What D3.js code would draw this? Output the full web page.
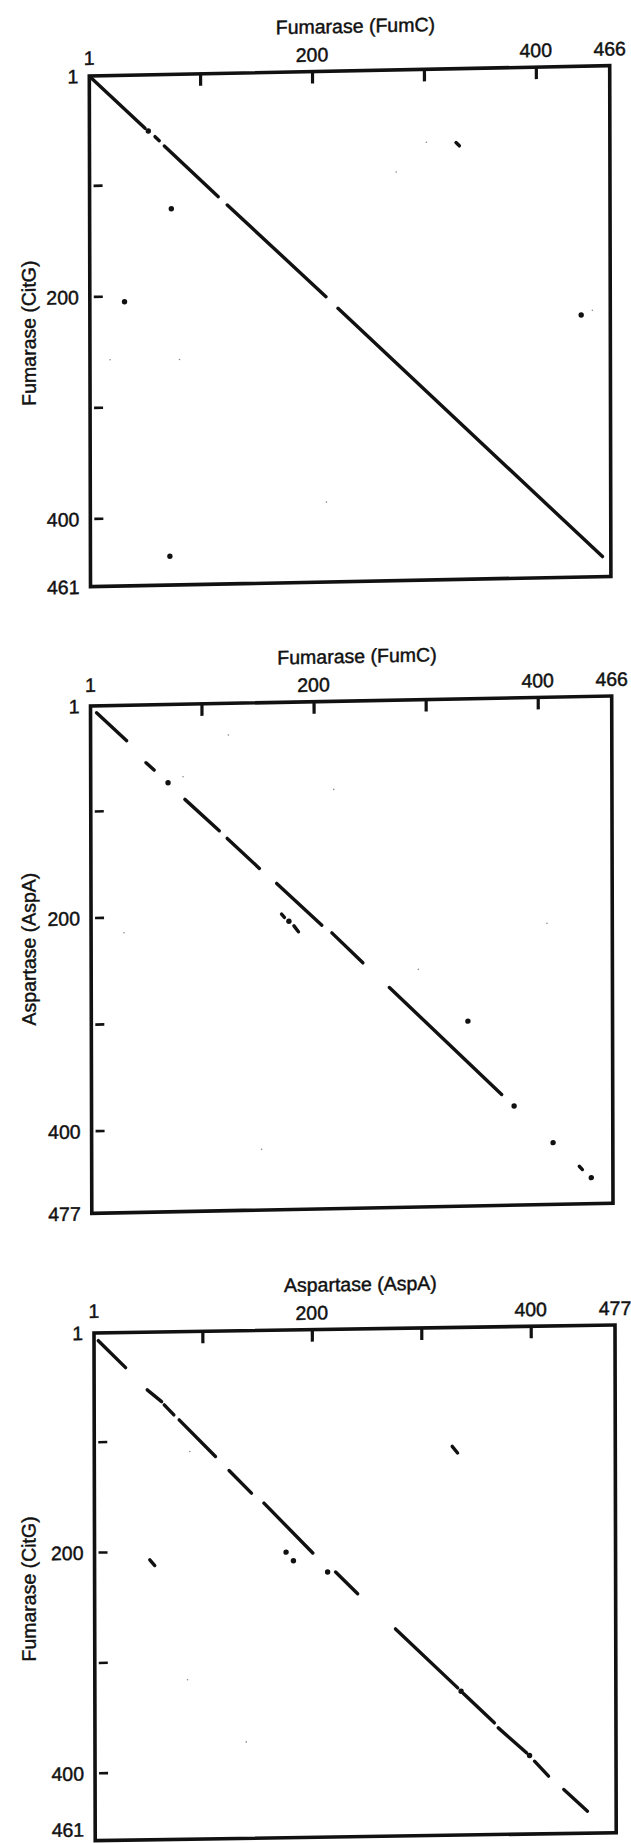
<!DOCTYPE html>
<html>
<head>
<meta charset="utf-8">
<script src="https://cdn.jsdelivr.net/npm/d3@7"></script>
<style>
  html, body { margin: 0; padding: 0; background: #fff; }
  svg { display: block; }
  text { font-family: "Liberation Sans", Arial, Helvetica, sans-serif; fill: #111; stroke: #111; stroke-width: 0.45px; }
</style>
</head>
<body>
<svg id="chart" width="631" height="1843"></svg>
<script>
// ---------- DATA (sequence positions) ----------
const tickValues = [100, 200, 300, 400];

// Panel 1: Fumarase (FumC) vs Fumarase (CitG)
const p1XTitle = "Fumarase (FumC)";
const p1YTitle = "Fumarase (CitG)";
const p1XMax = 466, p1YMax = 461;
const p1TopLabels = [1, 200, 400, 466];
const p1LeftLabels = [1, 200, 400, 461];
const p1Segments = [
  [3, 3, 50.7, 49.1],
  [59.6, 56.8, 63.4, 60.5],
  [67.9, 65.4, 116, 112],
  [124, 119.6, 212, 204],
  [222.7, 214.7, 458.5, 443],
  [328.5, 67.5, 331.5, 70.5]
];
const p1Dots = [[53.6, 51.6], [74, 122], [32, 205], [440, 225], [72, 435]];
const p1Specks = [[302, 66.7], [275, 93], [450, 221], [19, 257], [212, 389], [81, 258]];

// Panel 2: Fumarase (FumC) vs Aspartase (AspA)
const p2XTitle = "Fumarase (FumC)";
const p2YTitle = "Aspartase (AspA)";
const p2XMax = 466, p2YMax = 477;
const p2TopLabels = [1, 200, 400, 466];
const p2LeftLabels = [1, 200, 400, 477];
const p2Segments = [
  [6.4, 7.4, 33.2, 34.2],
  [50.4, 55.2, 57.6, 62.2],
  [85, 90.3, 115.6, 120.4],
  [122.7, 127.7, 151.3, 156.4],
  [166.7, 170.8, 206.9, 210.8],
  [215.8, 218.2, 243.4, 246.9],
  [267, 270.5, 366.9, 372.9],
  [436, 441.6, 438.8, 444.8],
  [171, 199.7, 173.5, 202.8],
  [182, 211, 186, 216.6]
];
const p2Dots = [[70, 74.4], [177.5, 206.5], [337, 303.5], [378, 383.9], [412.7, 419], [446.7, 452.5]];
const p2Specks = [[407.7, 213], [30.3, 214.4], [292.9, 254], [152.6, 420], [124, 30.7], [83.4, 69], [217.9, 83.6]];

// Panel 3: Aspartase (AspA) vs Fumarase (CitG)
const p3XTitle = "Aspartase (AspA)";
const p3YTitle = "Fumarase (CitG)";
const p3XMax = 477, p3YMax = 461;
const p3TopLabels = [1, 200, 400, 477];
const p3LeftLabels = [1, 200, 400, 461];
const p3Segments = [
  [4.9, 8, 29.8, 32.8],
  [49.5, 53.3, 62.6, 64.1],
  [65, 67.1, 73.8, 76.3],
  [78.6, 80.9, 111.7, 114.6],
  [124.1, 127.5, 144.5, 148.3],
  [155.9, 157.5, 200.4, 203.4],
  [221.2, 220.9, 241.3, 240.9],
  [275.8, 273.3, 332.5, 327.6],
  [337.7, 332.8, 365.9, 359.8],
  [369.5, 364.4, 395.2, 387.4],
  [402.5, 395.1, 415.3, 408.8],
  [429.2, 421.1, 450.8, 441.1],
  [51.5, 207.3, 56, 212.5],
  [328, 108.7, 332.9, 114.8]
];
const p3Dots = [[176, 202.2], [182.7, 210.1], [213.9, 220.8], [335.6, 330.7], [398, 389.9]];
const p3Specks = [[88.3, 109.7], [85.7, 316.5], [139.2, 373.6]];

// ---------- LAYOUT (scanned frames are slightly sheared) ----------
const panels = [
  { xTitle: p1XTitle, yTitle: p1YTitle, xMax: p1XMax, yMax: p1YMax, top: p1TopLabels, left: p1LeftLabels,
    segs: p1Segments, dots: p1Dots, specks: p1Specks,
    ox: 89.3, oy: 76, W: 520.4, H: 510.7, b: -0.0198, c: 0.00235, yTitleY: 256, lastDy: "0.36em", oneY: -11 },
  { xTitle: p2XTitle, yTitle: p2YTitle, xMax: p2XMax, yMax: p2YMax, top: p2TopLabels, left: p2LeftLabels,
    segs: p2Segments, dots: p2Dots, specks: p2Specks,
    ox: 90.5, oy: 706, W: 521.2, H: 507.3, b: -0.0192, c: 0.00256, yTitleY: 242, lastDy: "0.36em", oneY: -14 },
  { xTitle: p3XTitle, yTitle: p3YTitle, xMax: p3XMax, yMax: p3YMax, top: p3TopLabels, left: p3LeftLabels,
    segs: p3Segments, dots: p3Dots, specks: p3Specks,
    ox: 94, oy: 1333, W: 521, H: 507.7, b: -0.0154, c: 0.0024, yTitleY: 255, lastDy: "-0.22em", oneY: -15 }
];

const svg = d3.select("#chart");
const ink = "#111";
const fontSize = 19.5;

panels.forEach(p => {
  const g = svg.append("g")
    .attr("transform", `matrix(1,${p.b},${p.c},1,${p.ox},${p.oy})`);

  const x = d3.scaleLinear().domain([1, p.xMax]).range([0, p.W]);
  const y = d3.scaleLinear().domain([1, p.yMax]).range([0, p.H]);

  // frame
  g.append("rect")
    .attr("x", 0).attr("y", 0).attr("width", p.W).attr("height", p.H)
    .attr("fill", "none").attr("stroke", ink).attr("stroke-width", 3.6);

  // top axis: inward ticks, selected labels
  const topAxis = d3.axisTop(x).tickValues(tickValues).tickSizeInner(-12).tickSizeOuter(0).tickFormat("");
  const ga = g.append("g").call(topAxis);
  ga.select(".domain").remove();
  ga.selectAll(".tick line").attr("stroke", ink).attr("stroke-width", 3.2);

  g.selectAll(null).data(p.top).enter().append("text")
    .attr("x", d => x(d)).attr("y", (d, i) => i === 0 ? p.oneY : -10)
    .attr("text-anchor", "middle")
    .attr("font-size", fontSize)
    .text(d => d);

  // left axis: short detached ticks
  g.selectAll(null).data(tickValues).enter().append("line")
    .attr("x1", 4).attr("x2", 13)
    .attr("y1", d => y(d)).attr("y2", d => y(d))
    .attr("stroke", ink).attr("stroke-width", 2.6);

  g.selectAll(null).data(p.left).enter().append("text")
    .attr("x", -11).attr("y", d => y(d))
    .attr("dy", (d, i) => i === p.left.length - 1 ? p.lastDy : "0.36em")
    .attr("text-anchor", "end")
    .attr("font-size", fontSize)
    .text(d => d);

  // titles
  g.append("text")
    .attr("x", p.W / 2 + 6).attr("y", -38)
    .attr("text-anchor", "middle")
    .attr("font-size", fontSize)
    .text(p.xTitle);

  g.append("text")
    .attr("transform", `translate(${35 - p.ox},${p.yTitleY}) rotate(-90)`)
    .attr("text-anchor", "middle")
    .attr("font-size", fontSize)
    .text(p.yTitle);

  // diagonal runs of matches
  g.selectAll(null).data(p.segs).enter().append("line")
    .attr("x1", d => x(d[0])).attr("y1", d => y(d[1]))
    .attr("x2", d => x(d[2])).attr("y2", d => y(d[3]))
    .attr("stroke", ink).attr("stroke-width", 3.4).attr("stroke-linecap", "round");

  // isolated matches
  g.selectAll(null).data(p.dots).enter().append("circle")
    .attr("cx", d => x(d[0])).attr("cy", d => y(d[1]))
    .attr("r", 2.7).attr("fill", ink);

  // faint specks
  g.selectAll(null).data(p.specks).enter().append("circle")
    .attr("cx", d => x(d[0])).attr("cy", d => y(d[1]))
    .attr("r", 0.8).attr("fill", "#888");
});
</script>
</body>
</html>
